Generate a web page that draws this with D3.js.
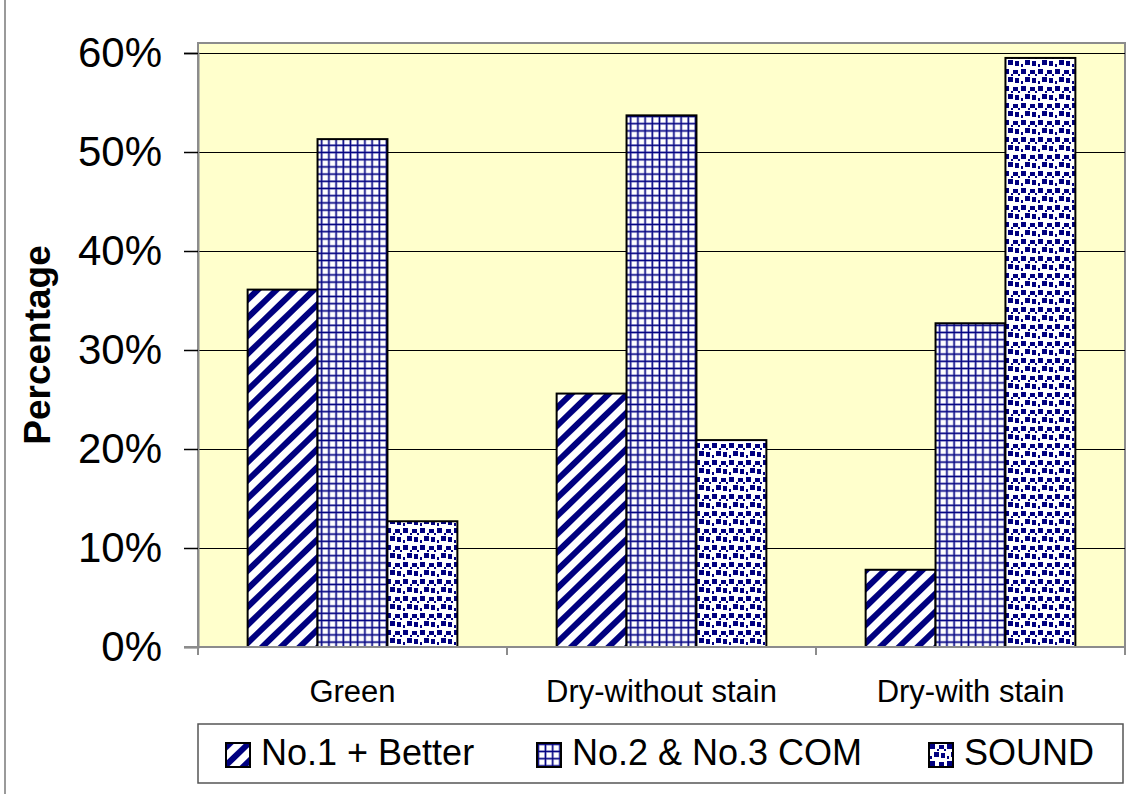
<!DOCTYPE html>
<html>
<head>
<meta charset="utf-8">
<script src="https://cdn.jsdelivr.net/npm/d3@7"></script>
<style>
  body { margin: 0; background: #fff; }
  svg { display: block; }
  text { font-family: "Liberation Sans", Arial, Helvetica, sans-serif; fill: #000; }
</style>
</head>
<body>
<svg id="chart" width="1130" height="794"></svg>
<script>
// Lumber grade share by drying condition
const categories = ["Green", "Dry-without stain", "Dry-with stain"];
const seriesNames = ["No.1 + Better", "No.2 & No.3 COM", "SOUND"];
const no1Better = [0.361, 0.256, 0.078];
const no2no3Com = [0.513, 0.537, 0.327];
const sound     = [0.127, 0.209, 0.595];
const yTicks = [0, 0.1, 0.2, 0.3, 0.4, 0.5, 0.6];
const yTitle = "Percentage";

const seriesValues = [no1Better, no2no3Com, sound];
const patternIds = ["pat-stripe", "pat-grid", "pat-dots"];

const svg = d3.select("#chart");
const NAVY = "#000080";

// ---- fill patterns ----
const defs = svg.append("defs");

// wide upward diagonal stripes
const stripe = defs.append("pattern")
  .attr("id", "pat-stripe")
  .attr("patternUnits", "userSpaceOnUse")
  .attr("width", 13).attr("height", 20)
  .attr("patternTransform", "rotate(46)");
stripe.append("rect").attr("width", 13).attr("height", 20).attr("fill", "#fff");
stripe.append("rect").attr("x", 0).attr("width", 6).attr("height", 20).attr("fill", NAVY);

// small grid
const grid = defs.append("pattern")
  .attr("id", "pat-grid")
  .attr("patternUnits", "userSpaceOnUse")
  .attr("width", 7.2).attr("height", 7.2);
grid.append("rect").attr("width", 7.2).attr("height", 7.2).attr("fill", "#fff");
grid.append("rect").attr("x", 0).attr("y", 0).attr("width", 2.6).attr("height", 7.2).attr("fill", "#c4c4e6");
grid.append("rect").attr("x", 0).attr("y", 0).attr("width", 7.2).attr("height", 2.6).attr("fill", "#c4c4e6");
grid.append("rect").attr("x", 0.6).attr("y", 0).attr("width", 1.4).attr("height", 7.2).attr("fill", NAVY);
grid.append("rect").attr("x", 0).attr("y", 0.6).attr("width", 7.2).attr("height", 1.4).attr("fill", NAVY);

// confetti dots
const dots = defs.append("pattern")
  .attr("id", "pat-dots")
  .attr("patternUnits", "userSpaceOnUse")
  .attr("width", 17).attr("height", 17);
dots.append("rect").attr("width", 17).attr("height", 17).attr("fill", "#fff");
const confetti = [[1,1,5,5],[10,2,5,4],[5,9,5,5],[12,10,4,5],[8,6,2,2],[1,13,2,3],[15,6,2,2]];
confetti.forEach(([x, y, w, h]) => {
  dots.append("rect").attr("x", x).attr("y", y).attr("width", w).attr("height", h).attr("fill", NAVY);
});

// ---- layout ----
const plot = { left: 198, right: 1125, top: 43, bottom: 647 };

const x = d3.scaleBand().domain(categories).range([plot.left, plot.right]).paddingInner(0).paddingOuter(0);
const x1 = d3.scaleBand().domain(seriesNames).range([0, x.bandwidth()]).paddingInner(0).paddingOuter(0.71);
const y = d3.scaleLinear().domain([0, 0.6]).range([plot.bottom, 53]);

// outer frame edge
svg.append("line").attr("x1", 5).attr("x2", 5).attr("y1", 0).attr("y2", 794)
  .attr("stroke", "#9a9a9a").attr("stroke-width", 2);

// plot background
svg.append("rect")
  .attr("x", plot.left).attr("y", plot.top)
  .attr("width", plot.right - plot.left).attr("height", plot.bottom - plot.top)
  .attr("fill", "#ffffcc").attr("stroke", "#8c8c8c").attr("stroke-width", 2);

// gridlines
svg.append("g").selectAll("line")
  .data(yTicks.filter(d => d > 0))
  .join("line")
  .attr("x1", plot.left).attr("x2", plot.right)
  .attr("y1", d => Math.round(y(d)) + 0.5).attr("y2", d => Math.round(y(d)) + 0.5)
  .attr("stroke", "#000").attr("stroke-width", 1.2);

// bars
const groups = svg.append("g").selectAll("g")
  .data(categories)
  .join("g")
  .attr("transform", d => `translate(${x(d)},0)`);

groups.selectAll("rect")
  .data((c, ci) => seriesNames.map((s, si) => ({ s, si, v: seriesValues[si][ci] })))
  .join("rect")
  .attr("x", d => x1(d.s))
  .attr("width", x1.bandwidth())
  .attr("y", d => y(d.v))
  .attr("height", d => y(0) - y(d.v))
  .attr("fill", d => `url(#${patternIds[d.si]})`)
  .attr("stroke", "#000").attr("stroke-width", 2);

// y axis
const yAxis = svg.append("g")
  .attr("transform", `translate(${plot.left},0)`)
  .call(d3.axisLeft(y).tickValues(yTicks).tickFormat(d3.format(".0%")).tickSize(14).tickPadding(22));
yAxis.select(".domain").attr("stroke", "#8c8c8c").attr("stroke-width", 2);
yAxis.selectAll(".tick line").attr("stroke", d => d === 0 ? "#8c8c8c" : "#000").attr("stroke-width", 1.5);
yAxis.selectAll(".tick text")
  .style("font-family", '"Liberation Sans", Arial, sans-serif')
  .style("font-size", "42px").attr("fill", "#000");

// x axis: line, boundary ticks, category labels
svg.append("line").attr("x1", plot.left - 14).attr("x2", plot.right)
  .attr("y1", plot.bottom).attr("y2", plot.bottom)
  .attr("stroke", "#8c8c8c").attr("stroke-width", 2);
const boundaries = categories.map(c => x(c)).concat([x(categories[categories.length - 1]) + x.bandwidth()]);
svg.append("g").selectAll("line")
  .data(boundaries)
  .join("line")
  .attr("x1", d => d).attr("x2", d => d)
  .attr("y1", plot.bottom).attr("y2", plot.bottom + 8)
  .attr("stroke", "#8c8c8c").attr("stroke-width", 2);

const xAxis = svg.append("g")
  .attr("transform", `translate(0,${plot.bottom})`)
  .call(d3.axisBottom(x).tickSize(0).tickPadding(33));
xAxis.select(".domain").remove();
xAxis.selectAll(".tick text")
  .style("font-family", '"Liberation Sans", Arial, sans-serif')
  .style("font-size", "31px").attr("fill", "#000");

// y axis title
svg.append("text")
  .attr("transform", "translate(50,345) rotate(-90)")
  .attr("text-anchor", "middle")
  .style("font-size", "37px").style("font-weight", "bold")
  .text(yTitle);

// legend
const legend = svg.append("g");
legend.append("rect")
  .attr("x", 198).attr("y", 724).attr("width", 925).attr("height", 59)
  .attr("fill", "#fff").attr("stroke", "#555").attr("stroke-width", 1.5);

const legendX = [226, 537, 929];
const items = legend.selectAll("g.item")
  .data(seriesNames)
  .join("g").attr("class", "item")
  .attr("transform", (d, i) => `translate(${legendX[i]},743)`);
items.append("rect")
  .attr("width", 24).attr("height", 24)
  .attr("fill", (d, i) => `url(#${patternIds[i]})`)
  .attr("stroke", "#000").attr("stroke-width", 2);
items.append("text")
  .attr("x", 35).attr("y", 22)
  .style("font-size", "36px")
  .text(d => d);
</script>
</body>
</html>
